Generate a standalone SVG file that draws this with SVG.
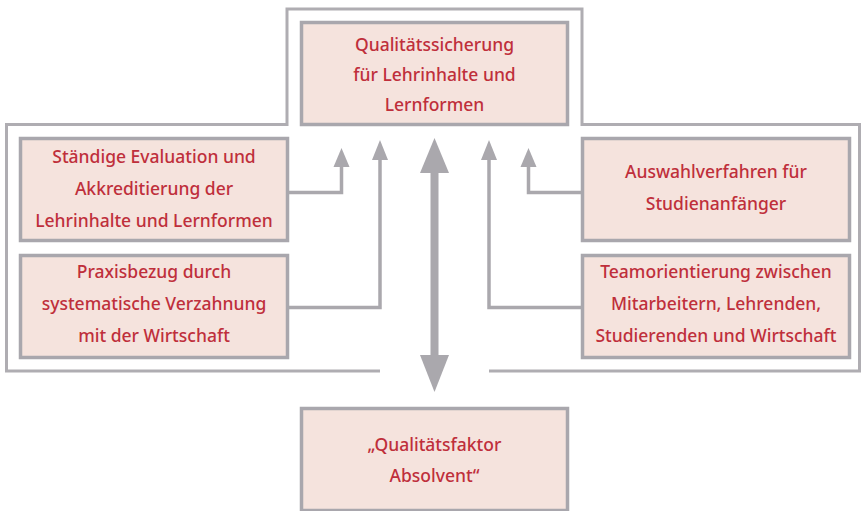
<svg xmlns="http://www.w3.org/2000/svg" width="861" height="511" viewBox="0 0 861 511">
<style>
.box{fill:#f5e3dd;stroke:#a9a7ad;stroke-width:3.5}
.frame{fill:none;stroke:#afadb2;stroke-width:3}
.line{fill:none;stroke:#aaa8ad;stroke-width:3.5}
.head{fill:#aaa8ad}
text{font-family:"Noto Sans","Open Sans","Liberation Sans",sans-serif;font-size:17.5px;font-weight:500;fill:#bf2f3b;text-anchor:middle}
</style>
<rect width="861" height="511" fill="#ffffff"/>
<path class="frame" d="M380 371 H6.5 V124.5 H287 V9 H582 V124.5 H859.5 V371 H489"/>
<g id="connectors">
<path class="line" d="M288 192.5 H341.5 V165"/>
<polygon class="head" points="341.5,148 333.5,167 349.5,167"/>
<path class="line" d="M288 307.5 H380 V158"/>
<polygon class="head" points="380,140 372,160 388,160"/>
<path class="line" d="M582 192.5 H528.5 V165"/>
<polygon class="head" points="528.5,148 520.5,167 536.5,167"/>
<path class="line" d="M582 307.5 H489 V158"/>
<polygon class="head" points="489,140 481,160 497,160"/>
<rect x="430.5" y="170" width="8" height="188" fill="#aaa8ad"/>
<polygon class="head" points="434.5,138 420,173 449,173"/>
<polygon class="head" points="434.5,392 420,355 449,355"/>
</g>
<g id="top">
<rect class="box" x="301.5" y="22.5" width="266" height="102"/>
<text x="434.5" y="51">Qualitätssicherung</text>
<text x="434.5" y="81">für Lehrinhalte und</text>
<text x="434.5" y="111">Lernformen</text>
</g>
<g id="left1">
<rect class="box" x="20.5" y="138.5" width="267" height="102"/>
<text x="154" y="163">Ständige Evaluation und</text>
<text x="154" y="195">Akkreditierung der</text>
<text x="154" y="227">Lehrinhalte und Lernformen</text>
</g>
<g id="left2">
<rect class="box" x="20.5" y="255.5" width="267" height="102"/>
<text x="154" y="278">Praxisbezug durch</text>
<text x="154" y="310">systematische Verzahnung</text>
<text x="154" y="342">mit der Wirtschaft</text>
</g>
<g id="right1">
<rect class="box" x="582.5" y="138.5" width="267" height="102"/>
<text x="716" y="178">Auswahlverfahren für</text>
<text x="716" y="210">Studienanfänger</text>
</g>
<g id="right2">
<rect class="box" x="582.5" y="255.5" width="267" height="102"/>
<text x="716" y="278">Teamorientierung zwischen</text>
<text x="716" y="310">Mitarbeitern, Lehrenden,</text>
<text x="716" y="342">Studierenden und Wirtschaft</text>
</g>
<g id="bottom">
<rect class="box" x="301.5" y="408.5" width="266" height="102"/>
<text x="434.5" y="451">„Qualitätsfaktor</text>
<text x="434.5" y="482">Absolvent“</text>
</g>
</svg>
